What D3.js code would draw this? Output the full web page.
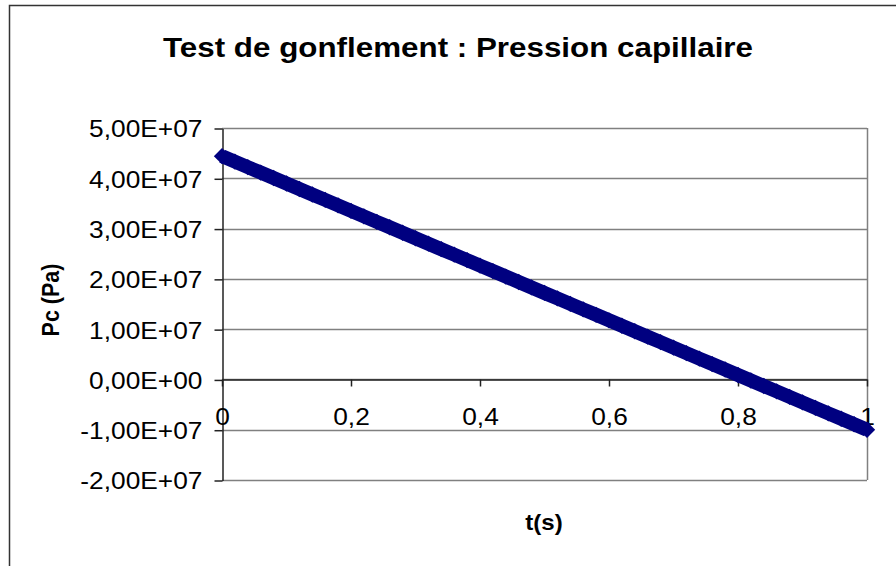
<!DOCTYPE html>
<html>
<head>
<meta charset="utf-8">
<script src="https://cdn.jsdelivr.net/npm/d3@7"></script>
<style>
  body { margin: 0; background: #fff; }
  text { font-family: "Liberation Sans", Arial, sans-serif; fill: #000; }
</style>
</head>
<body>
<script>
const width = 896;
const height = 566;
const margin = {top: 128, left: 222, bottom: 86, right: 29};
const stretch = 1.12; // the picture is a little wider than tall

// t (s)
const times = [
  0, 0.02, 0.04, 0.06, 0.08, 0.10, 0.12, 0.14, 0.16, 0.18,
  0.20, 0.22, 0.24, 0.26, 0.28, 0.30, 0.32, 0.34, 0.36, 0.38,
  0.40, 0.42, 0.44, 0.46, 0.48, 0.50, 0.52, 0.54, 0.56, 0.58,
  0.60, 0.62, 0.64, 0.66, 0.68, 0.70, 0.72, 0.74, 0.76, 0.78,
  0.80, 0.82, 0.84, 0.86, 0.88, 0.90, 0.92, 0.94, 0.96, 0.98, 1.00
];
// Pc (Pa)
const pressures = [
  4.440e7, 4.331e7, 4.222e7, 4.114e7, 4.005e7, 3.896e7, 3.787e7, 3.678e7, 3.570e7, 3.461e7,
  3.352e7, 3.243e7, 3.134e7, 3.026e7, 2.917e7, 2.808e7, 2.699e7, 2.590e7, 2.482e7, 2.373e7,
  2.264e7, 2.155e7, 2.046e7, 1.938e7, 1.829e7, 1.720e7, 1.611e7, 1.502e7, 1.394e7, 1.285e7,
  1.176e7, 1.067e7, 0.958e7, 0.850e7, 0.741e7, 0.632e7, 0.523e7, 0.414e7, 0.306e7, 0.197e7,
  0.088e7, -0.021e7, -0.130e7, -0.238e7, -0.347e7, -0.456e7, -0.565e7, -0.674e7, -0.782e7, -0.891e7, -1.000e7
];

const yTicks = [5e7, 4e7, 3e7, 2e7, 1e7, 0, -1e7, -2e7];
const yTickLabels = ['5,00E+07', '4,00E+07', '3,00E+07', '2,00E+07', '1,00E+07', '0,00E+00', '-1,00E+07', '-2,00E+07'];
const xTicks = [0, 0.2, 0.4, 0.6, 0.8, 1];
const xTickLabels = ['0', '0,2', '0,4', '0,6', '0,8', '1'];

const data = times.map((t, i) => ({t: t, p: pressures[i]}));

const x = d3.scaleLinear()
  .domain([0, 1])
  .range([margin.left, width - margin.right]);

const y = d3.scaleLinear()
  .domain([-2e7, 5e7])
  .range([height - margin.bottom, margin.top]);

const svg = d3.select('body').append('svg')
  .attr('width', width)
  .attr('height', height);

// outer chart frame
svg.append('rect')
  .attr('x', 9.5).attr('y', 5.5)
  .attr('width', width + 20).attr('height', height + 20)
  .attr('fill', 'none').attr('stroke', '#333').attr('stroke-width', 1.5);

// title
svg.append('text')
  .attr('transform', `translate(${458}, ${57}) scale(${stretch},1)`)
  .attr('text-anchor', 'middle')
  .attr('font-weight', 'bold')
  .attr('font-size', 28)
  .text('Test de gonflement : Pression capillaire');

// gridlines
svg.append('g')
  .selectAll('line').data(yTicks).enter().append('line')
  .attr('x1', x(0)).attr('x2', x(1))
  .attr('y1', d => Math.round(y(d)) + 0.5).attr('y2', d => Math.round(y(d)) + 0.5)
  .attr('stroke', '#808080').attr('stroke-width', 1.5);

// plot border right side
svg.append('line')
  .attr('x1', Math.round(x(1)) + 0.5).attr('x2', Math.round(x(1)) + 0.5)
  .attr('y1', y(5e7)).attr('y2', y(-2e7))
  .attr('stroke', '#808080').attr('stroke-width', 1.5);

// y axis
const yAxis = g => g
  .attr('transform', `translate(${Math.round(x(0)) + 0.5}, 0.5)`)
  .call(d3.axisLeft(y).tickValues(yTicks).tickSize(8).tickSizeOuter(0)
    .tickFormat((d, i) => yTickLabels[i]))
  .call(g => g.selectAll('line, path').attr('stroke', '#222').attr('stroke-width', 1.5))
  .call(g => g.selectAll('text')
    .attr('font-size', 23.5)
    .attr('font-family', '"Liberation Sans", Arial, sans-serif')
    .attr('fill', '#000')
    .attr('x', null).attr('dy', null)
    .attr('dominant-baseline', 'central')
    .attr('transform', `translate(-20,0) scale(${stretch},1)`));

// x axis at zero
const xAxis = g => g
  .attr('transform', `translate(0, ${Math.round(y(0)) + 0.5})`)
  .call(d3.axisBottom(x).tickValues(xTicks).tickSize(7).tickSizeOuter(0)
    .tickFormat((d, i) => xTickLabels[i]))
  .call(g => g.selectAll('line, path').attr('stroke', '#222').attr('stroke-width', 1.5))
  .call(g => g.selectAll('text')
    .attr('font-size', 23.5)
    .attr('font-family', '"Liberation Sans", Arial, sans-serif')
    .attr('fill', '#000')
    .attr('y', null).attr('dy', null)
    .attr('dominant-baseline', 'central')
    .attr('transform', `translate(0,37) scale(${stretch},1)`));

svg.append('g').call(yAxis);
svg.append('g').call(xAxis);

// series
const line = d3.line().x(d => x(d.t)).y(d => y(d.p));
svg.append('path')
  .datum(data)
  .attr('fill', 'none')
  .attr('stroke', '#000080')
  .attr('stroke-width', 14)
  .attr('d', line);

svg.append('g')
  .attr('fill', '#000080')
  .selectAll('path').data(data).enter().append('path')
  .attr('transform', d => `translate(${x(d.t)}, ${y(d.p)})`)
  .attr('d', d3.symbol().type(d3.symbolDiamond2).size(170));

// axis titles
svg.append('text')
  .attr('transform', `translate(${59}, ${300}) scale(${stretch},1) rotate(-90)`)
  .attr('text-anchor', 'middle')
  .attr('font-weight', 'bold')
  .attr('font-size', 21.5)
  .text('Pc (Pa)');

svg.append('text')
  .attr('transform', `translate(${544}, ${530}) scale(${stretch},1)`)
  .attr('text-anchor', 'middle')
  .attr('font-weight', 'bold')
  .attr('font-size', 21.5)
  .text('t(s)');
</script>
</body>
</html>
